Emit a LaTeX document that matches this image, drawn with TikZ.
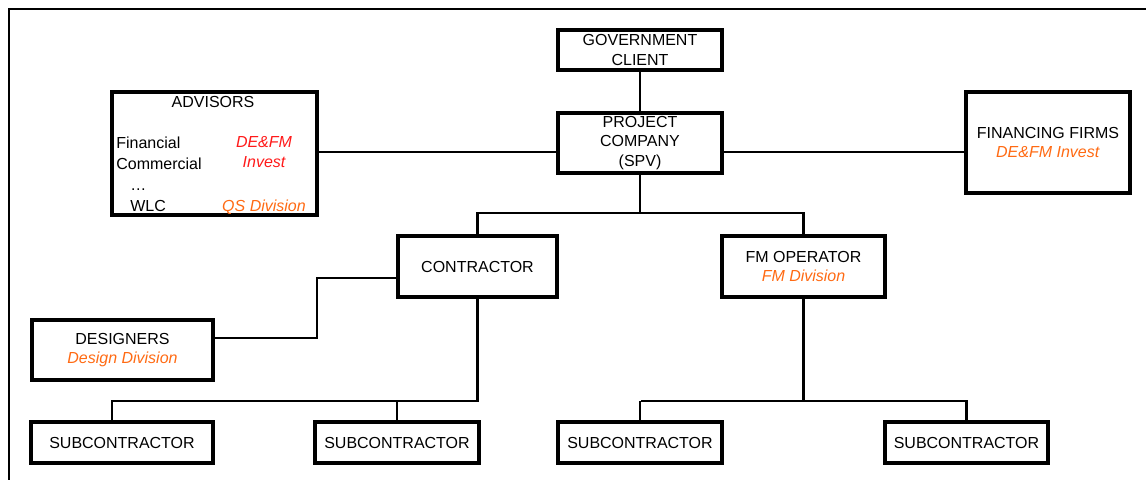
\documentclass[tikz,border=0pt]{standalone}
\usepackage{fontspec}
\setmainfont{Liberation Sans}
\usepackage{xcolor}
\usepackage{tikz}

\definecolor{divred}{HTML}{FF1A1A}
\definecolor{divorange}{HTML}{FF6A13}

\tikzset{
  box/.style={draw,line width=2pt,inner sep=0pt,align=center},
  link/.style={line width=1.2pt},
  redtxt/.style={text=divred,font=\fontsize{9.1}{11}\selectfont\itshape},
  orangetxt/.style={text=divorange,font=\fontsize{9.1}{11}\selectfont\itshape}
}

\begin{document}
\begin{tikzpicture}[x=0.02cm,y=-0.02cm,font=\fontsize{9.1}{11}\selectfont]
\useasboundingbox (0,0) rectangle (1146,480);

% frame
\draw[line width=1.3pt] (1146,9)--(9,9)--(9,480);

\node[box,minimum width=3.28cm,minimum height=0.8cm] (gov) at (640,50) {GOVERNMENT\\CLIENT};
\node[box,minimum width=3.28cm,minimum height=1.2cm] (spv) at (640,143) {PROJECT\\COMPANY\\(SPV)};
\node[box,minimum width=4.1cm,minimum height=2.46cm] (adv) at (214.5,153.5) {};
\node[box,minimum width=3.28cm,minimum height=2.02cm] (fin) at (1048,142.5) {FINANCING FIRMS\\\textcolor{divorange}{\textit{DE\&FM Invest}}};
\node[box,minimum width=3.18cm,minimum height=1.22cm] (con) at (477.5,266.5) {CONTRACTOR};
\node[box,minimum width=3.26cm,minimum height=1.22cm] (fmo) at (803.5,266.5) {FM OPERATOR\\\textcolor{divorange}{\textit{FM Division}}};
\node[box,minimum width=3.62cm,minimum height=1.2cm] (des) at (122.5,350) {DESIGNERS\\\textcolor{divorange}{\textit{Design Division}}};

\node[box,minimum width=3.64cm,minimum height=0.82cm] (sub1) at (122,442.5) {SUBCONTRACTOR};
\node[box,minimum width=3.28cm,minimum height=0.82cm] (sub2) at (397,442.5) {SUBCONTRACTOR};
\node[box,minimum width=3.28cm,minimum height=0.82cm] (sub3) at (640,442.5) {SUBCONTRACTOR};
\node[box,minimum width=3.26cm,minimum height=0.82cm] (sub4) at (966.5,442.5) {SUBCONTRACTOR};

% advisors text
\node[anchor=base] (advt) at (213,107) {ADVISORS};
\node[anchor=base west,inner sep=0pt] (adv1) at (116,148) {Financial};
\node[anchor=base west,inner sep=0pt] (adv2) at (116,169) {Commercial};
\node[anchor=base west,inner sep=0pt] (adv3) at (130,190) {…};
\node[anchor=base west,inner sep=0pt] (adv4) at (130,211) {WLC};
\node[anchor=base,redtxt,inner sep=0pt] (advr1) at (264,147) {DE\&FM};
\node[anchor=base,redtxt,inner sep=0pt] (advr2) at (264,167) {Invest};
\node[anchor=base,orangetxt,inner sep=0pt] (advr3) at (264,211) {QS Division};

\coordinate (mid) at (640,152);
\coordinate (busT) at (640,213);
\coordinate (desL) at (317,338);
\coordinate (desU) at (317,278);
\coordinate (busL) at (112,401);
\coordinate (busR) at (641,401);

\draw[link] (gov)--(spv);
\draw[link] (adv.east |- mid)--(spv.west |- mid);
\draw[link] (spv.east |- mid)--(fin.west |- mid);
\draw[link] (spv.south)--(busT);
\draw[link] (con.north) |- (busT) -| (fmo.north);
\draw[link] (des.east |- desL)--(desL)--(desU)--(con.west |- desU);

\draw[link] (con.south) |- (busL)--(busL |- sub1.north);
\draw[link] (sub2.north)--(sub2.north |- busL);
\draw[link] (fmo.south)--(fmo.south |- busR);
\draw[link] (sub3.north |- busR)--(sub3.north);
\draw[link] (busR)--(sub4.north |- busR)--(sub4.north);

\end{tikzpicture}
\end{document}
